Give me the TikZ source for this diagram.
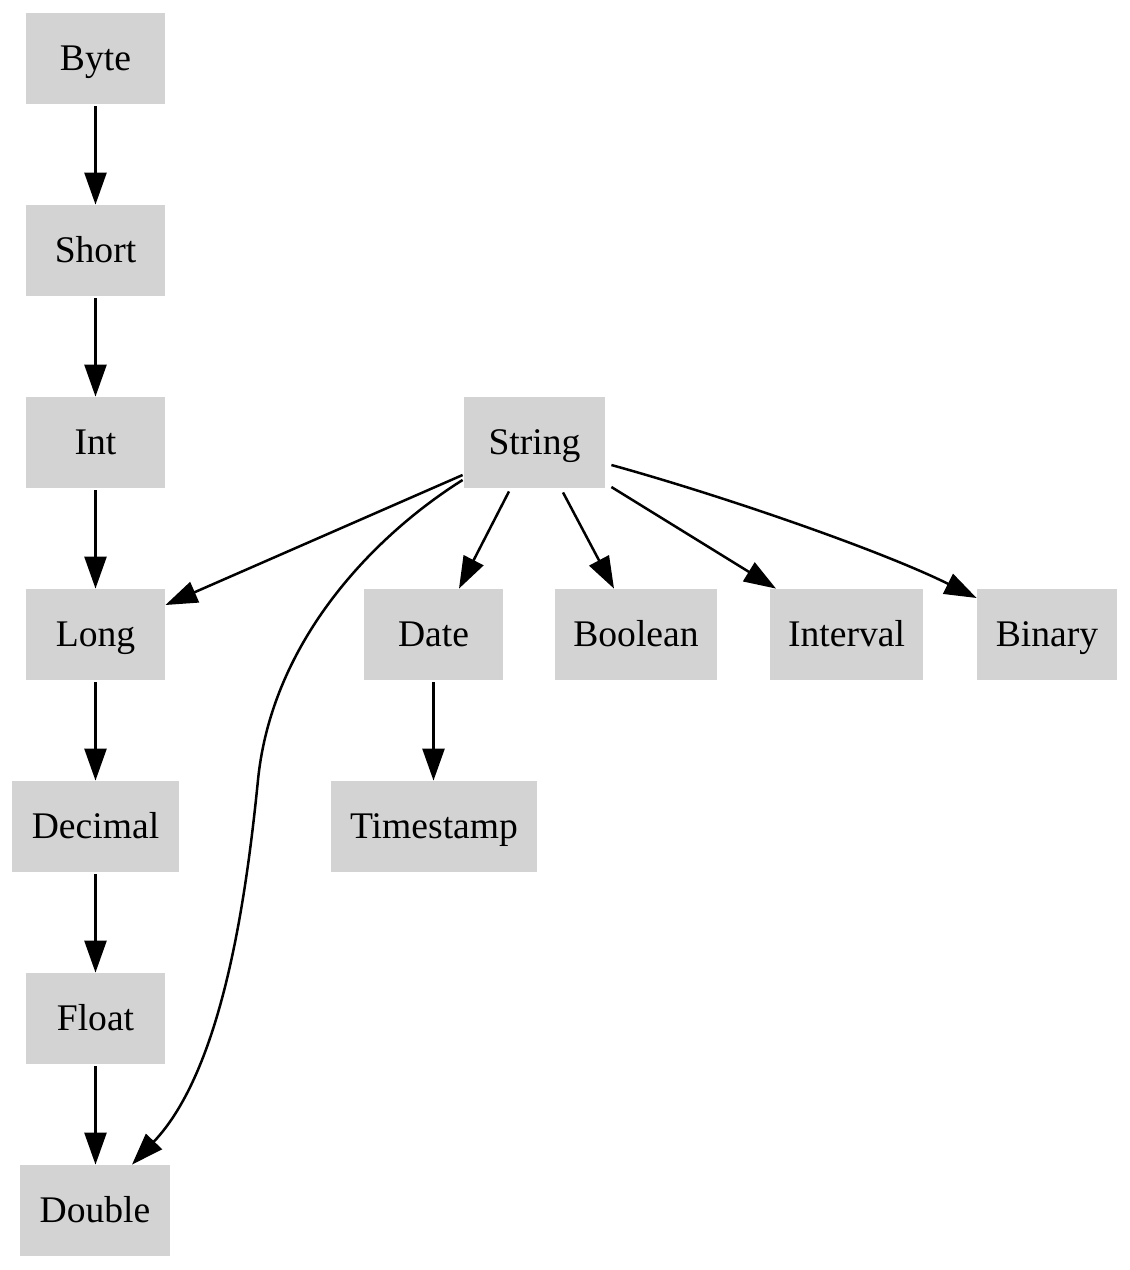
\documentclass[tikz,border=0pt]{standalone}
\usepackage{fontspec}
\setmainfont{Liberation Serif}
\usetikzlibrary{arrows.meta}
\definecolor{boxgray}{HTML}{D3D3D3}
\tikzset{
  box/.style={rectangle, fill=boxgray, draw=none, inner sep=0pt,
    minimum height=45.5pt, text height=14pt, text depth=2.5pt,
    font=\fontsize{18.8}{22}\selectfont},
  arr/.style={draw=black, line width=1.25pt,
    -{Triangle[length=16pt,width=11pt]}}
}
\begin{document}
\begin{tikzpicture}[x=0.5pt,y=-0.5pt]
\useasboundingbox (0,0) rectangle (1130,1270);
% left column
\node[box, minimum width=69.5pt] (Byte)    at (95.5,58.5)   {Byte};
\node[box, minimum width=69.5pt] (Short)   at (95.5,250.5)  {Short};
\node[box, minimum width=69.5pt] (Int)     at (95.5,442.5)  {Int};
\node[box, minimum width=69.5pt] (Long)    at (95.5,634.5)  {Long};
\node[box, minimum width=83.5pt] (Decimal) at (95.5,826.5)  {Decimal};
\node[box, minimum width=69.5pt] (Float)   at (95.5,1018.5) {Float};
\node[box, minimum width=75pt]   (Double)  at (95,1210.5)   {Double};
% right part
\node[box, minimum width=70.5pt] (String)    at (534.5,442.5) {String};
\node[box, minimum width=69.5pt] (Date)      at (433.5,634.5) {Date};
\node[box, minimum width=103pt]  (Timestamp) at (434,826.5)   {Timestamp};
\node[box, minimum width=81pt]   (Boolean)   at (636,634.5)   {Boolean};
\node[box, minimum width=76.5pt] (Interval)  at (846.5,634.5) {Interval};
\node[box, minimum width=70pt]   (Binary)    at (1047,634.5)  {Binary};
% vertical chain
\draw[arr] ([yshift=-1pt]Byte.south) -- (Short.north);
\draw[arr] ([yshift=-1pt]Short.south) -- (Int.north);
\draw[arr] ([yshift=-1pt]Int.south) -- (Long.north);
\draw[arr] ([yshift=-1pt]Long.south) -- (Decimal.north);
\draw[arr] ([yshift=-1pt]Decimal.south) -- (Float.north);
\draw[arr] ([yshift=-1pt]Float.south) -- (Float.south |- Double.north);
\draw[arr] ([yshift=-1pt]Date.south) -- (Date.south |- Timestamp.north);
% from String
\draw[arr] ([shift={(-1,32.5)}]String.west) -- ([shift={(0,-29.5)}]Long.east);
\draw[arr] ([shift={(-1,37.5)}]String.west)
  .. controls (375,535) and (272,640) .. (258,780)
  .. controls (246,900) and (222,1070) .. ([shift={(37,0)}]Double.north);
\draw[arr] ([shift={(-25.5,3)}]String.south) -- ([shift={(25.5,0)}]Date.north);
\draw[arr] ([shift={(28.5,4)}]String.south) -- ([shift={(-22,0)}]Boolean.north);
\draw[arr] ([shift={(6,44.5)}]String.east) -- ([shift={(-70.5,0)}]Interval.north);
\draw[arr] ([shift={(6,22.5)}]String.east)
  .. controls (720,495) and (880,550) .. ([shift={(0,-36.5)}]Binary.west);
\end{tikzpicture}
\end{document}
